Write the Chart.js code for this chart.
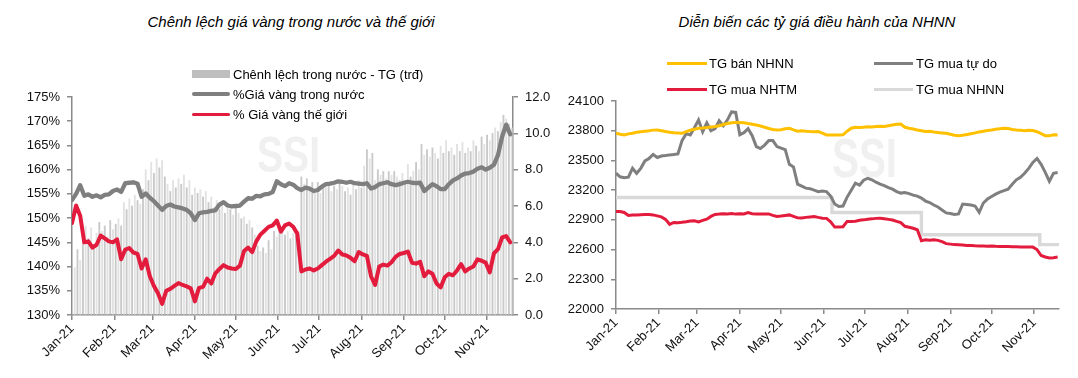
<!DOCTYPE html>
<html><head><meta charset="utf-8">
<script src="https://cdn.jsdelivr.net/npm/chart.js@4.4.0/dist/chart.umd.min.js"></script>
<style>
body{margin:0;background:#fff;width:1078px;height:378px;overflow:hidden;position:relative;font-family:'Liberation Sans Narrow','Liberation Sans',Arial,sans-serif;}
canvas{position:absolute;top:0;}
.t{position:absolute;font-family:'Liberation Sans',Arial,sans-serif;font-style:italic;font-size:15px;line-height:18px;text-align:center;color:#000;white-space:nowrap}
.lg{position:absolute;font-size:13px;line-height:15px;color:#000;white-space:nowrap}
.sw{position:absolute}
</style></head><body>
<div class="t" style="left:91px;top:13px;width:400px">Chênh lệch giá vàng trong nước và thế giới</div>
<div class="t" style="left:617px;top:13px;width:400px">Diễn biến các tỷ giá điều hành của NHNN</div>
<canvas id="c1" width="560" height="378" style="left:0"></canvas>
<canvas id="c2" width="518" height="378" style="left:560px"></canvas>

<div class="sw" style="left:192px;top:70px;width:38px;height:8px;background:#bfbfbf"></div>
<div class="lg" style="left:233px;top:66.5px">Chênh lệch trong nước - TG (trđ)</div>
<div class="sw" style="left:192px;top:92.3px;width:38px;height:4px;border-radius:2px;background:#7f7f7f"></div>
<div class="lg" style="left:233px;top:86.8px">%Giá vàng trong nước</div>
<div class="sw" style="left:192px;top:112.5px;width:38px;height:3.6px;border-radius:2px;background:#e31b3c"></div>
<div class="lg" style="left:233px;top:106.8px">% Giá vàng thế giới</div>

<div class="sw" style="left:667px;top:61.8px;width:40px;height:3px;background:#ffc000"></div>
<div class="lg" style="left:709px;top:55.8px">TG bán NHNN</div>
<div class="sw" style="left:667px;top:87.8px;width:40px;height:3px;background:#e31b3c"></div>
<div class="lg" style="left:709px;top:81.8px">TG mua NHTM</div>
<div class="sw" style="left:874px;top:61.8px;width:39px;height:3px;background:#7f7f7f"></div>
<div class="lg" style="left:916px;top:55.8px">TG mua tự do</div>
<div class="sw" style="left:874px;top:87.8px;width:39px;height:3px;background:#d9d9d9"></div>
<div class="lg" style="left:916px;top:81.8px">TG mua NHNN</div>

<script>
const monthLabels = ['Jan-21','Feb-21','Mar-21','Apr-21','May-21','Jun-21','Jul-21','Aug-21','Sep-21','Oct-21','Nov-21'];
const monthStartDays = [0,31,59,90,120,151,181,212,243,273,304];

const lineDays = [0,3,6,9,12,15,18,21,24,27,30,33,36,39,42,45,48,51,54,57,60,63,66,69,72,75,78,81,84,87,90,93,96,99,102,105,108,111,114,117,120,123,126,129,132,135,138,141,144,147,150,153,156,159,162,165,168,171,174,177,180,183,186,189,192,195,198,201,204,207,210,213,216,219,222,225,228,231,234,237,240,243,246,249,252,255,258,261,264,267,270,273,276,279,282,285,288,291,294,297,300,303,306,309,312,315,318,321];

const goldDomestic = [
153.7,155.0,156.8,154.6,154.9,154.4,154.7,154.3,154.8,154.9,
155.6,155.9,155.4,157.2,157.3,157.4,157.1,154.4,155.1,154.2,
153.5,152.6,151.7,152.5,152.8,152.4,152.2,152.0,151.7,151.0,
149.6,151.0,151.2,151.3,151.5,151.6,152.8,153.3,152.6,152.4,
152.5,152.6,153.4,154.1,154.0,154.6,154.5,154.9,155.0,155.4,
157.6,157.0,156.6,157.2,156.9,156.2,155.8,156.3,156.1,155.6,
155.8,156.5,157.0,157.1,157.3,157.6,157.5,157.3,157.5,157.2,
157.1,157.0,157.2,156.1,156.4,157.0,157.2,157.4,157.0,156.8,
157.0,157.3,157.5,157.3,157.2,157.3,155.6,156.3,157.0,156.6,
156.0,156.0,157.0,157.8,158.2,158.8,159.2,159.3,159.6,160.2,
160.5,160.0,160.4,161.0,163.0,166.8,169.3,167.3];

const goldWorld = [
149.0,152.6,150.5,145.0,145.2,143.9,144.5,146.4,145.8,145.2,
145.0,145.6,141.5,143.5,143.8,142.9,142.6,139.6,141.5,138.0,
136.0,134.5,132.3,135.0,135.4,136.0,136.6,136.2,135.9,135.5,
132.8,135.6,135.8,137.5,136.5,138.6,139.5,140.3,139.8,139.6,
139.5,140.2,143.2,143.9,143.0,145.2,146.6,147.4,148.2,148.5,
149.5,147.2,148.5,148.9,148.2,146.8,139.0,139.4,139.6,139.2,
139.6,140.3,141.0,141.6,142.2,143.3,142.5,142.3,141.8,141.1,
143.0,142.5,142.2,138.0,136.2,140.0,140.4,140.2,140.9,142.0,
142.6,142.8,143.1,140.8,140.6,141.0,138.0,139.0,138.5,136.5,
135.7,137.8,138.5,138.2,139.2,140.5,139.0,139.6,140.0,141.5,
141.2,140.8,138.8,142.7,143.6,146.0,146.3,145.0];

const barDays = [0,2,4,6,8,10,12,14,16,18,20,22,24,26,28,30,32,34,36,38,40,42,44,46,48,50,52,54,56,58,60,62,64,66,68,70,72,74,76,78,80,82,84,86,88,90,92,94,96,98,100,102,104,106,108,110,112,114,116,118,120,122,124,126,128,130,132,134,136,138,140,142,144,146,148,150,152,154,156,158,160,162,164,166,168,170,172,174,176,178,180,182,184,186,188,190,192,194,196,198,200,202,204,206,208,210,212,214,216,218,220,222,224,226,228,230,232,234,236,238,240,242,244,246,248,250,252,254,256,258,260,262,264,266,268,270,272,274,276,278,280,282,284,286,288,290,292,294,296,298,300,302,304,306,308,310,312,314,316,318,320,322];

const goldGap = [
1.8,2.6,3.6,3.0,4.6,4.9,4.2,4.8,3.9,4.5,
5.1,4.6,4.9,4.3,5.2,4.7,5.0,5.3,4.9,6.2,
5.8,6.4,6.0,6.6,6.3,6.1,6.9,8.0,7.4,8.4,
7.8,8.6,8.1,8.5,7.6,7.2,6.8,7.4,7.0,7.5,
7.2,7.7,7.0,7.4,6.6,7.0,6.7,6.9,6.5,6.8,
6.2,6.5,5.9,6.3,5.8,6.1,5.6,5.9,5.8,5.5,
5.9,5.6,5.3,5.4,5.0,5.2,4.8,4.4,3.8,3.5,
3.7,3.4,4.1,3.6,4.6,4.3,4.7,4.5,4.4,4.6,
4.2,4.5,4.4,4.6,7.6,7.2,7.5,7.0,7.3,6.9,
7.3,6.7,7.2,7.0,7.3,6.8,7.1,6.9,7.4,7.1,
6.8,7.0,6.6,7.2,6.9,7.4,7.0,8.2,9.1,8.6,
8.9,7.4,8.0,7.7,7.9,7.5,7.9,7.7,7.9,7.6,
7.4,7.8,7.3,8.3,7.6,7.9,8.4,8.0,9.4,8.8,
9.1,8.7,9.2,8.9,8.6,9.3,8.9,9.6,9.0,9.2,
8.8,9.4,9.0,9.5,8.9,9.2,9.0,9.6,9.3,9.0,
9.8,9.4,9.9,9.6,10.0,10.3,10.1,10.6,11.0,10.8,
10.5,10.3];

const fxSellSBV = [
23774,23765,23758,23768,23775,23785,23790,23795,23800,23806,
23808,23800,23792,23785,23780,23778,23774,23790,23805,23815,
23825,23828,23832,23838,23842,23850,23862,23872,23881,23884,
23882,23880,23872,23865,23858,23848,23835,23822,23812,23808,
23810,23820,23825,23808,23795,23800,23795,23792,23790,23791,
23775,23757,23757,23756,23757,23758,23795,23825,23835,23832,
23836,23840,23838,23842,23845,23842,23850,23858,23866,23868,
23835,23825,23818,23808,23800,23792,23795,23788,23782,23778,
23774,23765,23755,23750,23755,23762,23770,23778,23788,23795,
23802,23808,23815,23820,23825,23822,23812,23808,23805,23800,
23805,23802,23790,23770,23750,23748,23758,23757];

const fxBuyFree = [
23371,23335,23325,23331,23420,23370,23420,23495,23520,23560,
23530,23545,23550,23556,23560,23566,23700,23770,23757,23830,
23908,23790,23880,23800,23820,23900,23850,23910,23990,23985,
23760,23780,23820,23750,23640,23620,23655,23700,23700,23640,
23625,23610,23460,23435,23260,23240,23220,23215,23200,23185,
23190,23185,23140,23060,23035,23040,23130,23200,23271,23250,
23300,23320,23305,23280,23260,23245,23225,23210,23185,23170,
23175,23165,23150,23140,23120,23090,23075,23050,23030,23000,
22970,22965,22955,22960,23060,23055,23050,23040,22975,23070,
23110,23135,23160,23180,23195,23210,23260,23304,23330,23370,
23420,23480,23520,23460,23380,23290,23370,23378];

const fxBuyBank = [
22984,22984,22975,22944,22948,22950,22952,22954,22954,22950,
22940,22930,22905,22855,22874,22872,22875,22880,22888,22890,
22880,22895,22907,22935,22955,22958,22962,22960,22964,22958,
22962,22960,22974,22962,22960,22958,22960,22960,22945,22934,
22938,22945,22950,22935,22920,22918,22925,22930,22934,22925,
22917,22915,22880,22827,22827,22830,22884,22884,22886,22895,
22900,22907,22910,22915,22917,22912,22905,22898,22885,22872,
22835,22825,22815,22800,22690,22700,22695,22698,22693,22680,
22660,22655,22650,22648,22645,22642,22640,22638,22637,22636,
22634,22635,22633,22632,22630,22630,22628,22628,22627,22626,
22625,22625,22600,22540,22525,22515,22518,22524];

const fxBuySBVDays = [0,157,222,308,322];
const fxBuySBV = [23125,22975,22750,22650,22650];

const pts = (xs, ys) => xs.map((x, i) => ({x: x, y: ys[i]}));
const AX = '#8a8a8a';
const TXT = '#111';
Chart.defaults.font.family = "'Liberation Sans Narrow','Liberation Sans',Arial,sans-serif";
Chart.defaults.font.size = 13;
Chart.defaults.color = TXT;

function xAxis(max, h) {
  return {
    type: 'linear', min: 0, max: max, offset: false,
    afterBuildTicks: s => { s.ticks = monthStartDays.map(v => ({value: v})); },
    afterFit: s => { s.height = h; },
    ticks: { autoSkip: false, maxRotation: 45, minRotation: 45, padding: 1, color: TXT,
      callback: (v, i) => monthLabels[i] },
    grid: { display: true, drawOnChartArea: false, drawTicks: true, tickLength: 5, color: AX, lineWidth: 1.5, offset: false },
    border: { display: true, color: AX, width: 1.5 }
  };
}
function yAxis(pos, min, max, step, w, fmt) {
  return {
    position: pos, min: min, max: max,
    afterFit: s => { s.width = w; },
    afterBuildTicks: s => { const t = []; for (let v = min; v <= max + 1e-9; v += step) t.push({value: v}); s.ticks = t; },
    ticks: { padding: 7, color: TXT, callback: fmt },
    grid: { display: true, drawOnChartArea: false, drawTicks: true, tickLength: 5, color: AX, lineWidth: 1.5 },
    border: { display: true, color: AX, width: 1.5 }
  };
}
function watermark(x, y, size, targetW) {
  return {
    id: 'wm',
    beforeDatasetsDraw(chart) {
      const c = chart.ctx;
      c.save();
      c.font = "bold " + size + "px 'Liberation Sans',Arial,sans-serif";
      c.fillStyle = '#f0f0f0';
      c.textBaseline = 'alphabetic';
      const w = c.measureText('SSI').width;
      c.translate(x, y);
      c.scale(targetW / w, 1);
      c.fillText('SSI', 0, 0);
      c.restore();
    }
  };
}
const common = { responsive: false, animation: false, events: [],
  plugins: { legend: { display: false }, tooltip: { enabled: false } } };

new Chart(document.getElementById('c1'), {
  type: 'bar',
  data: { datasets: [
    { type: 'line', label: '% Giá vàng thế giới', data: pts(lineDays, goldWorld), yAxisID: 'y',
      borderColor: '#e31b3c', borderWidth: 4, pointRadius: 0, tension: 0, borderJoinStyle: 'round', borderCapStyle: 'round', order: 0 },
    { type: 'line', label: '%Giá vàng trong nước', data: pts(lineDays, goldDomestic), yAxisID: 'y',
      borderColor: '#7f7f7f', borderWidth: 4.3, pointRadius: 0, tension: 0, borderJoinStyle: 'round', borderCapStyle: 'round', order: 1 },
    { type: 'bar', label: 'Chênh lệch trong nước - TG (trđ)', data: pts(barDays, goldGap), yAxisID: 'y1',
      backgroundColor: c => (c.dataIndex % 2 ? '#e2e2e2' : '#c9c9c9'), borderWidth: 0, barThickness: 1.2, order: 2 }
  ]},
  options: Object.assign({}, common, {
    layout: { padding: { top: 97, left: 0, right: 0, bottom: 0 } },
    scales: {
      x: xAxis(323, 63),
      y: yAxis('left', 130, 175, 5, 72, v => v + '%'),
      y1: yAxis('right', 0, 12, 2, 47, v => v.toFixed(1))
    }
  }),
  plugins: [watermark(257, 172, 50, 63)]
});

new Chart(document.getElementById('c2'), {
  type: 'line',
  data: { datasets: [
    { label: 'TG bán NHNN', data: pts(lineDays, fxSellSBV), borderColor: '#ffc000', borderWidth: 3, pointRadius: 0, tension: 0, order: 0 },
    { label: 'TG mua tự do', data: pts(lineDays, fxBuyFree), borderColor: '#7f7f7f', borderWidth: 3, pointRadius: 0, tension: 0, order: 1 },
    { label: 'TG mua NHTM', data: pts(lineDays, fxBuyBank), borderColor: '#e31b3c', borderWidth: 3, pointRadius: 0, tension: 0, order: 2 },
    { label: 'TG mua NHNN', data: pts(fxBuySBVDays, fxBuySBV), borderColor: '#d9d9d9', borderWidth: 3.4, pointRadius: 0, stepped: true, order: 3 }
  ]},
  options: Object.assign({}, common, {
    layout: { padding: { top: 101, left: 0, right: 19, bottom: 0 } },
    scales: {
      x: xAxis(322, 69),
      y: yAxis('left', 22000, 24100, 300, 56, v => String(v))
    }
  }),
  plugins: [watermark(272, 177, 55, 65)]
});
</script>
</body></html>
